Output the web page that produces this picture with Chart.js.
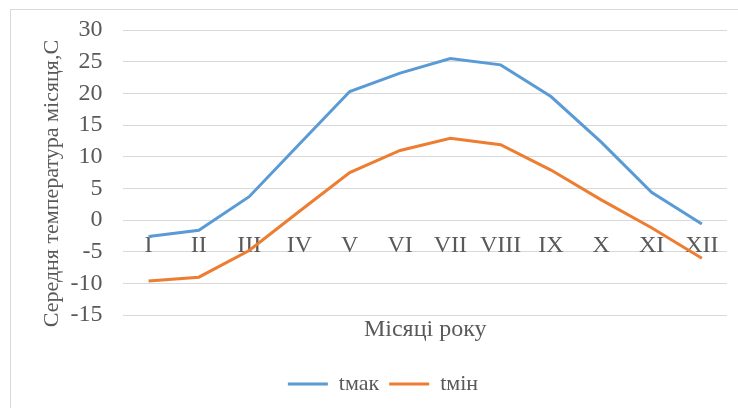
<!DOCTYPE html>
<html>
<head>
<meta charset="utf-8">
<script src="https://cdn.jsdelivr.net/npm/chart.js@4/dist/chart.umd.min.js"></script>
<style>
html,body{margin:0;padding:0;background:#fff;}
#wrap{position:relative;width:738px;height:408px;overflow:hidden;}
#frame{position:absolute;left:10px;top:9px;width:760px;height:420px;border:1px solid #d9d9d9;box-sizing:border-box;}
#c{position:absolute;left:0;top:0;}
</style>
</head>
<body>
<div id="wrap"><div id="frame"></div><canvas id="c" width="738" height="408"></canvas></div>
<script>
const months = ['I','II','III','IV','V','VI','VII','VIII','IX','X','XI','XII'];
const tMax = [-2.6, -1.6, 3.7, 12.0, 20.3, 23.2, 25.5, 24.5, 19.5, 12.3, 4.4, -0.6];
const tMin = [-9.6, -9.0, -4.8, 1.4, 7.5, 11.0, 12.9, 11.9, 7.9, 3.2, -1.2, -6.0];
const seriesNames = ['tмак', 'tмін'];
const yTicks = [-15, -10, -5, 0, 5, 10, 15, 20, 25, 30];
const xTitle = 'Місяці року';
const yTitle = 'Середня температура місяця,С';

const FONT = 'Liberation Serif, Times New Roman, serif';
const TXT = '#595959';
new Chart(document.getElementById('c'), {
  type: 'line',
  data: {
    labels: months,
    datasets: [
      {label: seriesNames[0], data: tMax, borderColor: '#5B9BD5', backgroundColor: '#5B9BD5', borderWidth: 3, pointRadius: 0, tension: 0},
      {label: seriesNames[1], data: tMin, borderColor: '#ED7D31', backgroundColor: '#ED7D31', borderWidth: 3, pointRadius: 0, tension: 0}
    ]
  },
  options: {
    responsive: false,
    animation: false,
    layout: {padding: {left: 39, right: 11, top: 30, bottom: 3}},
    plugins: {
      tooltip: {enabled: false},
      title: {
        display: true, position: 'bottom', text: xTitle, weight: 500, fullSize: false,
        color: TXT, font: {family: FONT, size: 24, weight: 'normal'},
        padding: {top: 0, bottom: 19}
      },
      legend: {
        position: 'bottom',
        labels: {
          color: TXT, font: {family: FONT, size: 22},
          usePointStyle: true, pointStyle: 'line', pointStyleWidth: 40,
          padding: 10
        }
      }
    },
    scales: {
      x: {
        type: 'category',
        position: {y: 0},
        offset: true,
        grid: {display: false, drawTicks: false},
        border: {display: false},
        ticks: {color: TXT, font: {family: FONT, size: 24}, padding: 11, maxRotation: 0, autoSkip: false}
      },
      y: {
        min: -15, max: 30,
        afterBuildTicks: (s) => { s.ticks = yTicks.map(v => ({value: v})); },
        grid: {color: '#d9d9d9', lineWidth: 1, drawTicks: true, tickLength: 18, tickColor: 'rgba(0,0,0,0)'},
        border: {display: false},
        ticks: {color: TXT, font: {family: FONT, size: 24}, padding: 3, autoSkip: false},
        title: {display: true, text: yTitle + '\u00A0\u00A0\u00A0\u00A0', color: TXT, font: {family: FONT, size: 22}, padding: {top: 0, bottom: 2}}
      }
    }
  }
});
</script>
</body>
</html>
